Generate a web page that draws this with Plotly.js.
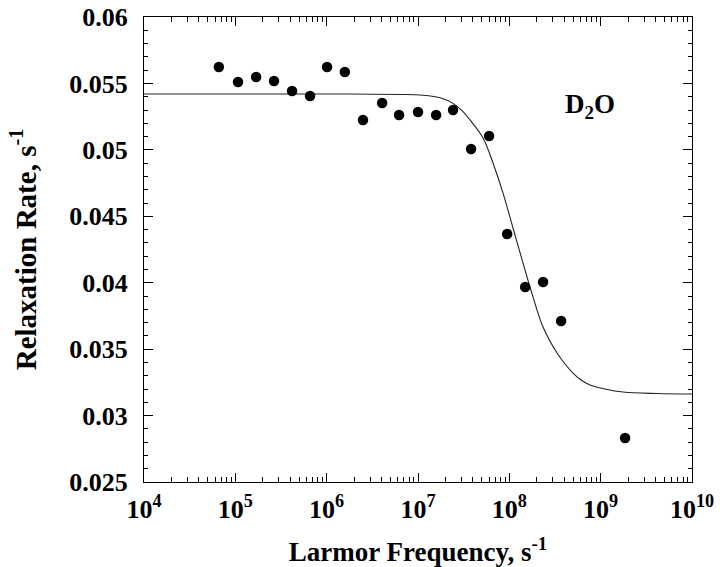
<!DOCTYPE html>
<html>
<head>
<meta charset="utf-8">
<script src="https://cdn.plot.ly/plotly-3.0.1.min.js"></script>
<style>html,body{margin:0;padding:0;background:#fff;}#chart{width:720px;height:567px;}</style>
</head>
<body>
<div id="chart"></div>
<script>
// Measured data points (Larmor frequency, s^-1 ; relaxation rate, s^-1)
const freq = [6.6e4, 1.07e5, 1.69e5, 2.65e5, 4.18e5, 6.58e5, 1.01e6, 1.58e6, 2.5e6, 4.05e6,
              6.2e6, 1.0e7, 1.58e7, 2.42e7, 3.81e7, 6.0e7, 9.46e7, 1.49e8, 2.34e8, 3.69e8, 1.85e9];
const rate = [0.05624, 0.05511, 0.05548, 0.05518, 0.05443, 0.05405, 0.05624, 0.05586, 0.05225, 0.05353,
              0.05262, 0.05285, 0.05262, 0.05300, 0.05006, 0.05104, 0.04367, 0.03968, 0.04005, 0.03712, 0.02831];

// Fitted curve (log10 frequency ; rate)
const fitLogF = [4.0, 6.256, 6.80, 7.022, 7.241, 7.383, 7.482, 7.569, 7.712, 7.821, 7.931, 8.040, 8.150, 8.259,
                 8.369, 8.522, 8.610, 8.697, 8.785, 8.883, 9.047, 9.245, 9.617, 10.0];
const fitRate = [0.05420, 0.05420, 0.05417, 0.05413, 0.05392, 0.05350, 0.05295, 0.05225, 0.05089, 0.04901,
                 0.04675, 0.04412, 0.04148, 0.03893, 0.03667, 0.03471, 0.03388, 0.03320, 0.03268, 0.03230,
                 0.03200, 0.03177, 0.03166, 0.03162];

const xDecades = [1e4, 1e5, 1e6, 1e7, 1e8, 1e9, 1e10];
const xTickText = ["10<sup>4</sup>", "10<sup>5</sup>", "10<sup>6</sup>", "10<sup>7</sup>",
                   "10<sup>8</sup>", "10<sup>9</sup>", "10<sup>10</sup>"];
const yTicks = [0.025, 0.03, 0.035, 0.04, 0.045, 0.05, 0.055, 0.06];
const yTickText = ["0.025", "0.03", "0.035", "0.04", "0.045", "0.05", "0.055", "0.06"];

const xMinor = [];
for (let i = 0; i < xDecades.length - 1; i++) {
  for (let k = 2; k <= 9; k++) xMinor.push(xDecades[i] * k);
}

const serif = "Liberation Serif, Times New Roman, serif";

const traces = [
  {
    x: fitLogF.map(v => Math.pow(10, v)),
    y: fitRate,
    mode: "lines",
    line: {color: "#222", width: 1.1, shape: "spline", smoothing: 1},
    hoverinfo: "skip",
    showlegend: false
  },
  {
    x: freq,
    y: rate,
    mode: "markers",
    marker: {color: "#000", size: 10.5, symbol: "circle"},
    showlegend: false
  }
];

const layout = {
  width: 720,
  height: 567,
  margin: {l: 144, r: 28, t: 17, b: 85},
  paper_bgcolor: "#fff",
  plot_bgcolor: "#fff",
  font: {family: serif, color: "#000"},
  xaxis: {
    type: "log",
    range: [4, 10],
    tickmode: "array",
    tickvals: xDecades,
    ticktext: xTickText,
    ticks: "inside",
    ticklen: 9,
    tickwidth: 1,
    tickcolor: "#000",
    minor: {tickmode: "array", tickvals: xMinor, ticks: "inside", ticklen: 5, tickwidth: 1, tickcolor: "#000", showgrid: false},
    showline: true,
    linecolor: "#000",
    linewidth: 1,
    mirror: "ticks",
    showgrid: false,
    zeroline: false,
    ticklabelstandoff: 4,
    tickfont: {family: serif, size: 26, weight: "bold", color: "#000"},
    title: {text: "Larmor Frequency, s<sup>-1</sup>", font: {family: serif, size: 27, weight: "bold", color: "#000"}, standoff: 24}
  },
  yaxis: {
    range: [0.025, 0.06],
    tickmode: "array",
    tickvals: yTicks,
    ticktext: yTickText,
    ticks: "inside",
    ticklen: 9,
    tickwidth: 1,
    tickcolor: "#000",
    minor: {dtick: 0.001, ticks: "inside", ticklen: 4, tickwidth: 1, tickcolor: "#000", showgrid: false},
    showline: true,
    linecolor: "#000",
    linewidth: 1,
    mirror: "ticks",
    showgrid: false,
    zeroline: false,
    ticklabelstandoff: 10,
    tickfont: {family: serif, size: 26, weight: "bold", color: "#000"},
    title: {text: "Relaxation Rate, s<sup>-1</sup>", font: {family: serif, size: 29, weight: "bold", color: "#000"}, standoff: 24}
  },
  annotations: [
    {
      x: 8.88, y: 0.0533, xref: "x", yref: "y",
      text: "D<sub>2</sub>O",
      showarrow: false,
      font: {family: serif, size: 27, weight: "bold", color: "#000"}
    }
  ]
};

Plotly.newPlot("chart", traces, layout, {displayModeBar: false, staticPlot: true});
</script>
</body>
</html>
